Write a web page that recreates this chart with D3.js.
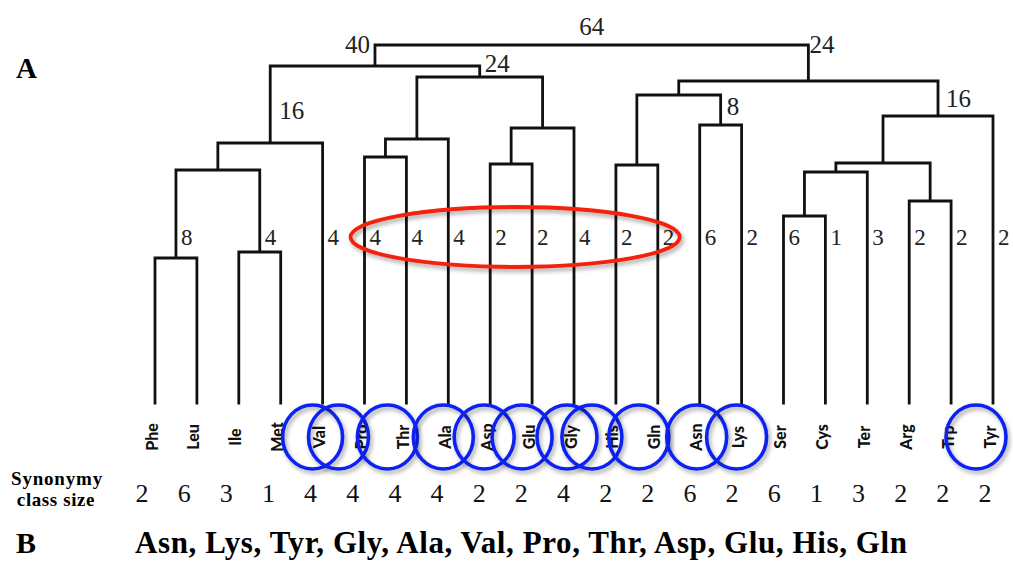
<!DOCTYPE html>
<html>
<head>
<meta charset="utf-8">
<script src="https://cdn.jsdelivr.net/npm/d3@7"></script>
<style>
  html, body { margin: 0; padding: 0; background: #fff; }
  svg { display: block; }
</style>
</head>
<body>
<svg id="chart" width="1013" height="563"></svg>
<script>
// ---------------- DATA ----------------
const leaves = ["Phe","Leu","Ile","Met","Val","Pro","Thr","Ala","Asp","Glu","Gly","His","Gln","Asn","Lys","Ser","Cys","Ter","Arg","Trp","Tyr"];
const classSizes = [2,6,3,1,4,4,4,4,2,2,4,2,2,6,2,6,1,3,2,2,2];

// merges: [id, left child, right child, merge height]
const merges = [
  ["PheLeu","Phe","Leu",145],
  ["IleMet","Ile","Met",151],
  ["PLIM","PheLeu","IleMet",233],
  ["c16a","PLIM","Val",260],
  ["ProThr","Pro","Thr",246],
  ["PTA","ProThr","Ala",264],
  ["AspGlu","Asp","Glu",239],
  ["AGG","AspGlu","Gly",275],
  ["c24a","PTA","AGG",326],
  ["c40","c16a","c24a",337],
  ["HisGln","His","Gln",238],
  ["AsnLys","Asn","Lys",278],
  ["c8","HisGln","AsnLys",308],
  ["SerCys","Ser","Cys",187],
  ["SCT","SerCys","Ter",231],
  ["ArgTrp","Arg","Trp",202],
  ["SCTAT","SCT","ArgTrp",240],
  ["c16b","SCTAT","Tyr",287],
  ["c24b","c8","c16b",322],
  ["root","c40","c24b",358]
];

// numbers written at the lower level of the tree
const lowLabelNodes  = ["PheLeu","IleMet","Val","Pro","Thr","Ala","Asp","Glu","Gly","His","Gln","Asn","Lys","Ser","Cys","Ter","Arg","Trp","Tyr"];
const lowLabelValues = [8,4,4,4,4,4,2,2,4,2,2,6,2,6,1,3,2,2,2];

// cluster numbers
const clusterNodes  = ["c16a","c40","c24a","root","c24b","AsnLys","c16b"];
const clusterValues = [16,40,24,64,24,8,16];

// circled amino acids and the highlighted group
const circled = ["Val","Pro","Thr","Ala","Asp","Glu","Gly","His","Gln","Asn","Lys","Tyr"];
const ellipseGroup = ["Pro","Thr","Ala","Asp","Glu","Gly","His","Gln"];
const listB = ["Asn","Lys","Tyr","Gly","Ala","Val","Pro","Thr","Asp","Glu","His","Gln"];

// ---------------- BUILD TREE ----------------
const nodes = {};
leaves.forEach(n => nodes[n] = { id: n, children: null, h: 0 });
merges.forEach(([id, a, b, h]) => nodes[id] = { id, children: [nodes[a], nodes[b]], h });
const root = d3.hierarchy(nodes["root"], d => d.children);

const svg = d3.select("#chart");
const x = d3.scalePoint().domain(leaves).range([155, 993]);
const xNum = d3.scalePoint().domain(leaves).range([142, 985]);
const y = d3.scaleLinear().domain([0, 358]).range([403, 45]);

root.eachAfter(n => {
  if (!n.children) n.px = x(n.data.id);
  else n.px = d3.mean(n.children, c => c.px);
  n.py = y(n.data.h);
});
const byId = {};
root.each(n => byId[n.data.id] = n);

const defs = svg.append("defs");
const f = defs.append("filter").attr("id", "shadow").attr("x", "-20%").attr("y", "-30%").attr("width", "140%").attr("height", "160%");
f.append("feDropShadow").attr("dx", 2).attr("dy", 3).attr("stdDeviation", 2.2)
  .attr("flood-color", "#000").attr("flood-opacity", 0.35);

// ---------------- DRAW TREE ----------------
const g = svg.append("g");
const path = d3.path();
root.each(n => {
  if (n.children) {
    const [a, b] = n.children;
    path.moveTo(a.px, n.py); path.lineTo(b.px, n.py);
    n.children.forEach(c => { path.moveTo(c.px, n.py); path.lineTo(c.px, c.py); });
  }
});
g.append("path").attr("d", path.toString())
  .attr("fill", "none").attr("stroke", "#111").attr("stroke-width", 2.8)
  .attr("stroke-linecap", "square");

const serif = "'Liberation Serif', 'Times New Roman', serif";

g.selectAll("text.low").data(lowLabelNodes).join("text")
  .attr("class", "low")
  .attr("x", d => byId[d].px + 5)
  .attr("y", 245)
  .attr("font-family", serif).attr("font-size", 23).attr("fill", "#222")
  .text((d, i) => lowLabelValues[i]);

const place = {
  c16a:  n => ({ x: n.px + 9, y: n.py - 24, a: "start" }),
  c40:   n => ({ x: n.px - 5, y: n.parent.py + 8, a: "end" }),
  c24a:  n => ({ x: n.px + 5, y: n.parent.py + 6, a: "start" }),
  root:  n => ({ x: n.px, y: n.py - 10, a: "middle" }),
  c24b:  n => ({ x: n.px + 1, y: n.parent.py + 8, a: "start" }),
  AsnLys:n => ({ x: n.px + 6, y: n.py - 10, a: "start" }),
  c16b:  n => ({ x: n.px + 8, y: n.py - 9, a: "start" })
};
clusterNodes.forEach((id, i) => {
  const p = place[id](byId[id]);
  g.append("text").attr("x", p.x).attr("y", p.y).attr("text-anchor", p.a)
    .attr("font-family", serif).attr("font-size", 25).attr("fill", "#222")
    .text(clusterValues[i]);
});

g.selectAll("text.leaf").data(leaves).join("text")
  .attr("class", "leaf")
  .attr("transform", d => `translate(${x(d) - 4},437) rotate(-90)`)
  .attr("text-anchor", "middle").attr("dominant-baseline", "central")
  .attr("font-family", "Lato, 'Open Sans', sans-serif").attr("font-weight", 900)
  .attr("font-size", 16).attr("fill", "#111")
  .text(d => d);

g.selectAll("text.size").data(leaves).join("text")
  .attr("class", "size")
  .attr("x", d => xNum(d)).attr("y", 502)
  .attr("text-anchor", "middle")
  .attr("font-family", serif).attr("font-size", 26).attr("fill", "#111")
  .text((d, i) => classSizes[i]);

// ---------------- ANNOTATIONS ----------------
const circleShift = { Val:-10, Pro:-26, Thr:-19, Ala:-5, Asp:-6, Glu:-10, Gly:-7, His:-24, Gln:-19, Asn:-3, Lys:-5, Tyr:-17 };
svg.append("g").selectAll("ellipse").data(circled).join("ellipse")
  .attr("cx", d => x(d) + (circleShift[d] || 0)).attr("cy", 437)
  .attr("rx", 30).attr("ry", 32)
  .attr("fill", "none").attr("stroke", "#0b22f2").attr("stroke-width", 3.6)
  .attr("filter", "url(#shadow)");

const ex = d3.extent(ellipseGroup, d => x(d));
svg.append("ellipse")
  .attr("cx", (ex[0] + ex[1]) / 2 + 4).attr("cy", 237)
  .attr("rx", (ex[1] - ex[0]) / 2 + 18).attr("ry", 30)
  .attr("fill", "none").attr("stroke", "#f22010").attr("stroke-width", 3.8)
  .attr("filter", "url(#shadow)");

// ---------------- TEXT ----------------
function txt(t, xx, yy, size, anchor) {
  return svg.append("text").attr("x", xx).attr("y", yy).attr("font-size", size)
    .attr("text-anchor", anchor || "start")
    .attr("font-family", serif).attr("font-weight", 700).attr("fill", "#000")
    .text(t);
}
txt("A", 16, 78, 29);
txt("B", 16, 553, 30);
txt("Synonymy", 57, 485, 19, "middle").attr("letter-spacing", 0.8);
txt("class size", 56, 506, 19, "middle").attr("letter-spacing", 0.6);
txt(listB.join(", "), 135, 553, 31).attr("textLength", 772).attr("lengthAdjust", "spacing");
</script>
</body>
</html>
